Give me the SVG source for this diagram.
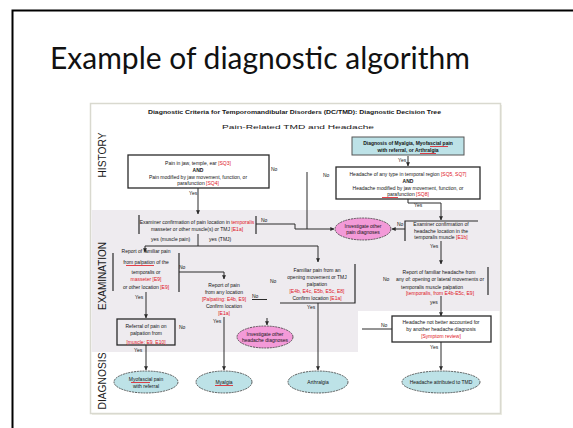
<svg xmlns="http://www.w3.org/2000/svg" width="573" height="428" viewBox="0 0 573 428">
<defs>
<style>
.t{font-family:"Liberation Sans",Arial,sans-serif;font-size:5px;fill:#151515;text-anchor:middle}
.b{font-weight:bold}
.r{fill:#e0141e}
.lbl{font-family:"Liberation Sans",Arial,sans-serif;font-size:5px;fill:#151515}
.box{fill:none;stroke:#2a2a2a;stroke-width:1.3}
.edge{fill:none;stroke:#2a2a2a;stroke-width:1.2}
.ln{fill:none;stroke:#2a2a2a;stroke-width:1}
.ul{stroke:#e0141e;stroke-width:0.8}
.teal{fill:#bde2e7;stroke:#3a3a3a;stroke-width:0.8;stroke-dasharray:2 0.8}
.pink{fill:#f39ad8;stroke:#3a3a3a;stroke-width:0.8;stroke-dasharray:2 0.8}
.sec{font-family:"Liberation Sans",Arial,sans-serif;font-size:11px;fill:#1a1a1a;text-anchor:middle}
</style>
<marker id="ah" viewBox="0 0 6 6" refX="5.5" refY="3" markerWidth="4" markerHeight="4" orient="auto">
<path d="M0,0 L6,3 L0,6 Z" fill="#2a2a2a"/>
</marker>
</defs>
<rect width="573" height="428" fill="#fff"/>
<path d="M12.5,428 V10.5 H573" fill="none" stroke="#000" stroke-width="2"/>
<text x="50" y="69" font-family="Lato,'Open Sans',sans-serif" font-size="30" fill="#111" textLength="420" lengthAdjust="spacingAndGlyphs">Example of diagnostic algorithm</text>

<g id="figure-frame">
<rect x="92" y="105" width="410" height="310" fill="#eeeee6"/>
<rect x="90.5" y="103.5" width="410" height="310" fill="#fff" stroke="#d9d9cf" stroke-width="1.5"/>
<path d="M91.5,210 H500 V311 H358 V352 H91.5 Z" fill="#eeebef"/>
</g>

<g id="headings">
<text class="t b" x="294.5" y="114" font-size="6" textLength="293" lengthAdjust="spacingAndGlyphs">Diagnostic Criteria for Temporomandibular Disorders (DC/TMD): Diagnostic Decision Tree</text>
<text class="t" x="298" y="129" font-size="11.5" textLength="152" lengthAdjust="spacingAndGlyphs">Pain-Related TMD and Headache</text>
<text class="sec" transform="translate(105.5,155) rotate(-90)" textLength="45" lengthAdjust="spacingAndGlyphs">HISTORY</text>
<text class="sec" transform="translate(105.5,276) rotate(-90)" textLength="68" lengthAdjust="spacingAndGlyphs">EXAMINATION</text>
<text class="sec" transform="translate(105.5,381) rotate(-90)" textLength="57" lengthAdjust="spacingAndGlyphs">DIAGNOSIS</text>
</g>

<g id="connectors">
<path class="ln" d="M198,188 V214" marker-end="url(#ah)"/>
<path class="ln" d="M198,234 V246 M145,246 H318"/>
<path class="ln" d="M145,246 V252" marker-end="url(#ah)"/>
<path class="ln" d="M318,246 V262" marker-end="url(#ah)"/>
<path class="ln" d="M256,224 H295 V229 H334" marker-end="url(#ah)"/>
<path class="ln" d="M307,172 V229"/>
<path class="ln" d="M408,156 V166" marker-end="url(#ah)"/>
<path class="ln" d="M408,199 V203 H441 V220" marker-end="url(#ah)"/>
<path class="ln" d="M405,229 H392" marker-end="url(#ah)"/>
<path class="ln" d="M441,241 V264" marker-end="url(#ah)"/>
<path class="ln" d="M441,296 V316" marker-end="url(#ah)"/>
<path class="ln" d="M441,342 V370" marker-end="url(#ah)"/>
<path class="ln" d="M392,329 H362"/>
<path class="ln" d="M179,272 H224 V279" marker-end="url(#ah)"/>
<path class="ln" d="M146,292 V318" marker-end="url(#ah)"/>
<path class="ln" d="M146,345 V370" marker-end="url(#ah)"/>
<path class="ln" d="M224,317 V370" marker-end="url(#ah)"/>
<path class="ln" d="M318,303 V370" marker-end="url(#ah)"/>
<path class="ln" d="M252,299.5 H267"/>
<path class="ln" d="M267,318 V325" marker-end="url(#ah)"/>
<text class="lbl" x="189" y="195">Yes</text>
<text class="lbl" x="151" y="241">yes (muscle pain)</text>
<text class="lbl" x="209" y="241">yes (TMJ)</text>
<text class="lbl" x="261" y="222">No</text>
<text class="lbl" x="271" y="171">No</text>
<text class="lbl" x="323" y="177">No</text>
<text class="lbl" x="398" y="162">Yes</text>
<text class="lbl" x="414" y="207">Yes</text>
<text class="lbl" x="397" y="226">No</text>
<text class="lbl" x="430" y="248">Yes</text>
<text class="lbl" x="430" y="304">yes</text>
<text class="lbl" x="430" y="349">Yes</text>
<text class="lbl" x="381" y="327">No</text>
<text class="lbl" x="179" y="269">No</text>
<text class="lbl" x="135" y="299">Yes</text>
<text class="lbl" x="134" y="352">Yes</text>
<text class="lbl" x="213" y="323">Yes</text>
<text class="lbl" x="307" y="309">Yes</text>
<text class="lbl" x="252" y="298">No</text>
<text class="lbl" x="270" y="283">No</text>
<text class="lbl" x="179" y="329">No</text>
<text class="lbl" x="383" y="281">No</text>
</g>

<g id="n-pain">
<rect class="box" x="128" y="155" width="141" height="33" fill="#fff"/>
<text class="t" x="198" y="165">Pain in jaw, temple, ear <tspan class="r">[SQ3]</tspan></text>
<text class="t b" x="198" y="171.5">AND</text>
<text class="t" x="198" y="178.5">Pain modified by jaw movement, function, or</text>
<text class="t" x="198" y="185">parafunction <tspan class="r">[SQ4]</tspan></text>
</g>

<g id="n-diagnosis-pain">
<rect class="teal" x="352" y="137" width="112" height="18" style="stroke-dasharray:none;stroke:#555;stroke-width:1"/>
<text class="t b" x="408" y="145">Diagnosis of Myalgia, Myofascial pain</text>
<text class="t b" x="408" y="152">with referral, or Arthralgia</text>
<path class="ul" d="M430,146.5 H448 M420,153.5 H436"/>
</g>

<g id="n-headache-history">
<rect class="box" x="336" y="167" width="144" height="32" fill="#fff"/>
<text class="t" x="408" y="176">Headache of any type in temporal region <tspan class="r">[SQ5, SQ7]</tspan></text>
<text class="t b" x="408" y="182.5">AND</text>
<text class="t" x="408" y="189.5">Headache modified by jaw movement, function, or</text>
<text class="t" x="408" y="196">parafunction <tspan class="r">[SQ8]</tspan></text>
<path class="ul" d="M382,197.5 H398"/>
</g>

<g id="n-exam-location">
<path class="edge" d="M139,215 V234 M256,216 V234"/>
<text class="t" x="197" y="224">Examiner confirmation of pain location in <tspan class="r">temporalis</tspan></text>
<text class="t" x="197" y="230.5">masseter or other muscle(s) or TMJ <tspan class="r">[E1a]</tspan></text>
</g>

<g id="n-exam-headache">
<path class="edge" d="M405,241 V221 H478"/>
<text class="t" x="441" y="226">Examiner confirmation of</text>
<text class="t" x="441" y="232.5">headache location in the</text>
<text class="t" x="441" y="239">temporalis muscle <tspan class="r">[E1b]</tspan></text>
</g>

<g id="n-investigate-pain">
<ellipse class="pink" cx="363" cy="229" rx="28" ry="11"/>
<text class="t" x="363" y="228" font-size="4.6">Investigate other</text>
<text class="t" x="363" y="234" font-size="4.6">pain diagnoses</text>
</g>

<g id="n-familiar-muscle">
<path class="edge" d="M113,253 V291 M179,253 V292"/>
<text class="t" x="146" y="253">Report of familiar pain</text>
<text class="t" x="146" y="264">from palpation of the</text>
<path class="ul" d="M126,265.5 H154"/>
<text class="t" x="146" y="274">temporalis or</text>
<text class="t r" x="146" y="280.5">masseter [E9]</text>
<text class="t" x="146" y="289">or other location <tspan class="r">[E9]</tspan></text>
</g>

<g id="n-familiar-any">
<text class="t" x="224" y="287">Report of pain</text>
<text class="t" x="224" y="294">from any location</text>
<text class="t r" x="224" y="301">[Palpating: E4b, E9]</text>
<text class="t" x="224" y="307.5">Confirm location</text>
<text class="t r" x="224" y="315">[E1a]</text>
</g>

<g id="n-familiar-tmj">
<path class="edge" d="M355,264 V303 H280"/>
<text class="t" x="317" y="272">Familiar pain from an</text>
<text class="t" x="317" y="279">opening movement or TMJ</text>
<text class="t" x="317" y="285.5">palpation</text>
<text class="t r" x="317" y="293">[E4b, E4c, E5b, E5c, E8]</text>
<text class="t" x="317" y="299.5">Confirm location <tspan class="r">[E1a]</tspan></text>
</g>

<g id="n-familiar-headache">
<path class="edge" d="M488,267 V295"/>
<text class="t" x="439" y="274">Report of familiar headache from</text>
<text class="t" x="440" y="281">any of: opening or lateral movements or</text>
<text class="t" x="432" y="288.5">temporalis muscle palpation</text>
<text class="t r" x="440" y="294.5">[temporalis, from E4b-E5c, E9]</text>
</g>

<g id="n-referral">
<rect class="box" x="117" y="319" width="58" height="26"/>
<text class="t" x="146" y="328">Referral of pain on</text>
<text class="t" x="146" y="335">palpation from</text>
<text class="t r" x="146" y="343.5">[muscle: E9, E10]</text>
</g>

<g id="n-investigate-headache">
<ellipse class="pink" cx="265" cy="337" rx="28" ry="11"/>
<text class="t" x="265" y="336" font-size="4.6">Investigate other</text>
<text class="t" x="265" y="342" font-size="4.6">headache diagnoses</text>
</g>

<g id="n-headache-exclusion">
<rect class="box" x="392" y="316" width="99" height="26" fill="#fff"/>
<text class="t" x="441" y="324">Headache not better accounted for</text>
<text class="t" x="441" y="331">by another headache diagnosis</text>
<text class="t r" x="441" y="338">[Symptom review]</text>
</g>

<g id="n-myofascial">
<ellipse class="teal" cx="146" cy="382" rx="32" ry="11"/>
<text class="t" x="146" y="381">Myofascial pain</text>
<text class="t" x="146" y="388">with referral</text>
<path class="ul" d="M131,382.5 H150"/>
</g>
<g id="n-myalgia">
<ellipse class="teal" cx="224" cy="382" rx="28" ry="11"/>
<text class="t" x="224" y="384">Myalgia</text>
<path class="ul" d="M215,385.5 H233"/>
</g>
<g id="n-arthralgia">
<ellipse class="teal" cx="318" cy="382" rx="30" ry="11"/>
<text class="t" x="318" y="384">Arthralgia</text>
</g>
<g id="n-headache-tmd">
<ellipse class="teal" cx="441" cy="382" rx="39" ry="11"/>
<text class="t" x="441" y="384">Headache attributed to TMD</text>
</g>
</svg>
